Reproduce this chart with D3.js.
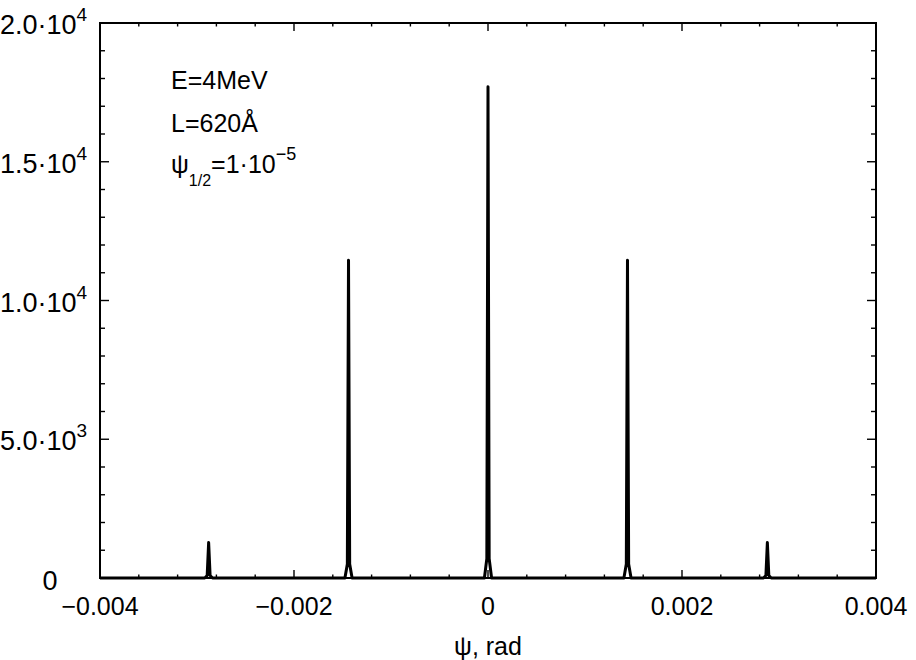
<!DOCTYPE html>
<html>
<head>
<meta charset="utf-8">
<script src="https://cdn.jsdelivr.net/npm/d3@7"></script>
<style>
  html, body { margin: 0; padding: 0; background: #fff; }
  svg { display: block; }
  text { font-family: "Liberation Sans", Arial, Helvetica, sans-serif; fill: #000; }
</style>
</head>
<body>
<svg id="chart" width="916" height="660"></svg>
<script>
// Angular distribution: angle psi (rad) and intensity
const psi = [
  -0.004,
  -0.00292, -0.002895, -0.00288, -0.002865, -0.00284,
  -0.001475, -0.00145, -0.001438, -0.001426, -0.001401,
  -0.000037, -0.000012, 0, 0.000012, 0.000037,
  0.001401, 0.001426, 0.001438, 0.00145, 0.001475,
  0.00284, 0.002865, 0.00288, 0.002895, 0.00292,
  0.004
];
const intensity = [
  0,
  0, 90, 1280, 90, 0,
  0, 500, 11450, 500, 0,
  0, 700, 17700, 700, 0,
  0, 500, 11450, 500, 0,
  0, 90, 1280, 90, 0,
  0
];

const xMajorTicks = [-0.004, -0.002, 0, 0.002, 0.004];
const xTickLabels = ["\u22120.004", "\u22120.002", "0", "0.002", "0.004"];
const yMajorTicks = [0, 5000, 10000, 15000, 20000];
const yTickMantissa = ["0", "5.0\u00b710", "1.0\u00b710", "1.5\u00b710", "2.0\u00b710"];
const yTickExponent = ["", "3", "4", "4", "4"];

const margin = { left: 100, right: 40, top: 23, bottom: 82 };
const W = 916, H = 660;
const x0 = margin.left, x1 = W - margin.right;
const y0 = H - margin.bottom, y1 = margin.top;

const svg = d3.select("#chart");
const x = d3.scaleLinear().domain([-0.004, 0.004]).range([x0, x1]);
const y = d3.scaleLinear().domain([0, 20000]).range([y0, y1]);

const xMinor = d3.range(-0.004, 0.00401, 0.0004).map(v => +v.toFixed(5));
const yMinor = d3.range(0, 20001, 1000);
const isMajorX = v => xMajorTicks.some(t => Math.abs(t - v) < 1e-9);
const isMajorY = v => yMajorTicks.includes(v);

// Ticks on all four sides, pointing inward
const tickG = svg.append("g").attr("stroke", "#000").attr("stroke-width", 1.4);
xMinor.forEach(v => {
  const len = isMajorX(v) ? 8 : 3.5;
  tickG.append("line").attr("x1", x(v)).attr("x2", x(v)).attr("y1", y0).attr("y2", y0 - len);
  tickG.append("line").attr("x1", x(v)).attr("x2", x(v)).attr("y1", y1).attr("y2", y1 + len);
});
yMinor.forEach(v => {
  const len = isMajorY(v) ? 9 : 5;
  tickG.append("line").attr("y1", y(v)).attr("y2", y(v)).attr("x1", x0).attr("x2", x0 + len);
  tickG.append("line").attr("y1", y(v)).attr("y2", y(v)).attr("x1", x1).attr("x2", x1 - len);
});

// Curve
const line = d3.line().x((d, i) => x(psi[i])).y(d => y(d));
svg.append("path")
  .datum(intensity)
  .attr("d", line)
  .attr("fill", "none")
  .attr("stroke", "#000")
  .attr("stroke-width", 3)
  .attr("stroke-linejoin", "round");

// Frame
svg.append("rect")
  .attr("x", x0).attr("y", y1)
  .attr("width", x1 - x0).attr("height", y0 - y1)
  .attr("fill", "none").attr("stroke", "#000").attr("stroke-width", 2);

// X tick labels
svg.append("g").selectAll("text")
  .data(xMajorTicks)
  .join("text")
  .attr("x", d => x(d))
  .attr("y", 615)
  .attr("text-anchor", "middle")
  .attr("font-size", 25)
  .text((d, i) => xTickLabels[i]);

// Y tick labels with power-of-ten exponents
const yLab = svg.append("g").selectAll("text")
  .data(yMajorTicks)
  .join("text")
  .attr("font-size", 27)
  .attr("x", d => d === 0 ? 50 : 0)
  .attr("y", d => y(d) + (d === 0 ? 12 : 11))
  .attr("text-anchor", d => d === 0 ? "middle" : "start");
yLab.append("tspan").text((d, i) => yTickMantissa[i]);
yLab.append("tspan")
  .attr("font-size", 19)
  .attr("dy", -13)
  .text((d, i) => yTickExponent[i]);

// Axis title
svg.append("text")
  .attr("x", x(0)).attr("y", 655)
  .attr("text-anchor", "middle")
  .attr("font-size", 25)
  .text("\u03c8, rad");

// Parameters
const note = svg.append("g").attr("font-size", 25);
note.append("text").attr("x", 171).attr("y", 89).text("E=4MeV");
note.append("text").attr("x", 171).attr("y", 132).text("L=620\u00c5");
const psiNote = note.append("text").attr("x", 171).attr("y", 173);
psiNote.append("tspan").text("\u03c8");
psiNote.append("tspan").attr("font-size", 16).attr("dy", 13).text("1/2");
psiNote.append("tspan").attr("dy", -13).text("=1\u00b710");
psiNote.append("tspan").attr("font-size", 18).attr("dy", -13).text("\u22125");
</script>
</body>
</html>
